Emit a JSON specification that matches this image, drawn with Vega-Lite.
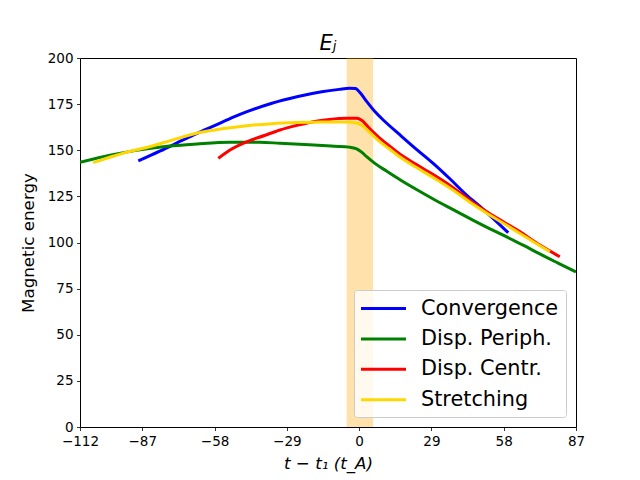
{
  "$schema": "https://vega.github.io/schema/vega-lite/v6.json",
  "width": 496,
  "height": 369,
  "autosize": "none",
  "padding": {"left": 80, "top": 58, "right": 64, "bottom": 53},
  "title": {
    "text": "Eⱼ",
    "font": "DejaVu Sans",
    "fontSize": 21,
    "fontStyle": "italic",
    "fontWeight": "normal",
    "color": "black",
    "offset": -3
  },
  "datasets": {
    "band": [{"t0": -5, "t1": 5.6}],
    "curves": [
      {"series": "Convergence", "t": -88.6, "E": 144.2},
      {"series": "Convergence", "t": -80, "E": 149.5},
      {"series": "Convergence", "t": -70, "E": 156},
      {"series": "Convergence", "t": -65, "E": 159.2},
      {"series": "Convergence", "t": -58, "E": 163.4},
      {"series": "Convergence", "t": -50, "E": 168.2},
      {"series": "Convergence", "t": -45, "E": 170.9},
      {"series": "Convergence", "t": -35, "E": 175.5},
      {"series": "Convergence", "t": -25, "E": 179},
      {"series": "Convergence", "t": -15, "E": 181.7},
      {"series": "Convergence", "t": -8, "E": 183},
      {"series": "Convergence", "t": -4, "E": 183.6},
      {"series": "Convergence", "t": -1.5, "E": 183.5},
      {"series": "Convergence", "t": 0.5, "E": 181},
      {"series": "Convergence", "t": 3, "E": 176.5},
      {"series": "Convergence", "t": 6.3, "E": 171},
      {"series": "Convergence", "t": 10, "E": 166},
      {"series": "Convergence", "t": 16.4, "E": 158.3},
      {"series": "Convergence", "t": 23, "E": 150.5},
      {"series": "Convergence", "t": 29.7, "E": 142.9},
      {"series": "Convergence", "t": 36.5, "E": 134.4},
      {"series": "Convergence", "t": 43.1, "E": 125.7},
      {"series": "Convergence", "t": 49.8, "E": 118},
      {"series": "Convergence", "t": 55, "E": 111.4},
      {"series": "Convergence", "t": 59.8, "E": 105.3},

      {"series": "Disp. Periph.", "t": -112, "E": 143.5},
      {"series": "Disp. Periph.", "t": -100, "E": 147.3},
      {"series": "Disp. Periph.", "t": -90, "E": 149.8},
      {"series": "Disp. Periph.", "t": -78.6, "E": 151.9},
      {"series": "Disp. Periph.", "t": -65, "E": 153.4},
      {"series": "Disp. Periph.", "t": -51.8, "E": 154.3},
      {"series": "Disp. Periph.", "t": -40, "E": 154.3},
      {"series": "Disp. Periph.", "t": -31.8, "E": 153.8},
      {"series": "Disp. Periph.", "t": -20, "E": 153},
      {"series": "Disp. Periph.", "t": -10, "E": 152.2},
      {"series": "Disp. Periph.", "t": -4, "E": 151.7},
      {"series": "Disp. Periph.", "t": -1, "E": 150.8},
      {"series": "Disp. Periph.", "t": 1, "E": 149},
      {"series": "Disp. Periph.", "t": 3, "E": 146.5},
      {"series": "Disp. Periph.", "t": 6.3, "E": 142.9},
      {"series": "Disp. Periph.", "t": 11, "E": 138.7},
      {"series": "Disp. Periph.", "t": 16.4, "E": 134},
      {"series": "Disp. Periph.", "t": 23, "E": 128.7},
      {"series": "Disp. Periph.", "t": 29.7, "E": 123.6},
      {"series": "Disp. Periph.", "t": 36, "E": 119},
      {"series": "Disp. Periph.", "t": 45.8, "E": 112},
      {"series": "Disp. Periph.", "t": 52.5, "E": 107.4},
      {"series": "Disp. Periph.", "t": 59.2, "E": 103},
      {"series": "Disp. Periph.", "t": 66, "E": 98.4},
      {"series": "Disp. Periph.", "t": 72.5, "E": 93.8},
      {"series": "Disp. Periph.", "t": 80, "E": 88.7},
      {"series": "Disp. Periph.", "t": 87, "E": 84},

      {"series": "Disp. Centr.", "t": -56.5, "E": 145.6},
      {"series": "Disp. Centr.", "t": -52, "E": 150},
      {"series": "Disp. Centr.", "t": -45.1, "E": 154.6},
      {"series": "Disp. Centr.", "t": -38, "E": 158},
      {"series": "Disp. Centr.", "t": -31.8, "E": 161},
      {"series": "Disp. Centr.", "t": -25, "E": 163.5},
      {"series": "Disp. Centr.", "t": -18.4, "E": 165.5},
      {"series": "Disp. Centr.", "t": -12, "E": 166.7},
      {"series": "Disp. Centr.", "t": -5, "E": 167.3},
      {"series": "Disp. Centr.", "t": -1, "E": 167.3},
      {"series": "Disp. Centr.", "t": 1, "E": 166.3},
      {"series": "Disp. Centr.", "t": 4, "E": 162},
      {"series": "Disp. Centr.", "t": 7.7, "E": 157.3},
      {"series": "Disp. Centr.", "t": 12, "E": 152.5},
      {"series": "Disp. Centr.", "t": 16.4, "E": 147.8},
      {"series": "Disp. Centr.", "t": 23, "E": 142.2},
      {"series": "Disp. Centr.", "t": 29.7, "E": 136.8},
      {"series": "Disp. Centr.", "t": 37, "E": 130.4},
      {"series": "Disp. Centr.", "t": 45.8, "E": 121.6},
      {"series": "Disp. Centr.", "t": 52, "E": 116},
      {"series": "Disp. Centr.", "t": 58, "E": 111.1},
      {"series": "Disp. Centr.", "t": 65, "E": 105.4},
      {"series": "Disp. Centr.", "t": 72.5, "E": 98.6},
      {"series": "Disp. Centr.", "t": 80.5, "E": 92.3},

      {"series": "Stretching", "t": -106.7, "E": 143.3},
      {"series": "Stretching", "t": -100, "E": 146.2},
      {"series": "Stretching", "t": -95, "E": 148.3},
      {"series": "Stretching", "t": -85.3, "E": 151.5},
      {"series": "Stretching", "t": -75, "E": 155.5},
      {"series": "Stretching", "t": -65.2, "E": 159.2},
      {"series": "Stretching", "t": -55, "E": 161.6},
      {"series": "Stretching", "t": -45.1, "E": 163.3},
      {"series": "Stretching", "t": -35, "E": 164.4},
      {"series": "Stretching", "t": -25.1, "E": 165},
      {"series": "Stretching", "t": -15, "E": 165.3},
      {"series": "Stretching", "t": -5, "E": 165.3},
      {"series": "Stretching", "t": -1, "E": 164.8},
      {"series": "Stretching", "t": 1, "E": 163.6},
      {"series": "Stretching", "t": 4, "E": 160},
      {"series": "Stretching", "t": 8, "E": 155},
      {"series": "Stretching", "t": 12, "E": 150.8},
      {"series": "Stretching", "t": 16.4, "E": 146.3},
      {"series": "Stretching", "t": 23, "E": 140.6},
      {"series": "Stretching", "t": 29.7, "E": 135.2},
      {"series": "Stretching", "t": 37, "E": 129},
      {"series": "Stretching", "t": 45.8, "E": 120.6},
      {"series": "Stretching", "t": 52, "E": 115.2},
      {"series": "Stretching", "t": 58, "E": 110.3},
      {"series": "Stretching", "t": 65, "E": 104.5},
      {"series": "Stretching", "t": 70.5, "E": 99.9},
      {"series": "Stretching", "t": 76.5, "E": 95}
    ]
  },
  "layer": [
    {
      "data": {"name": "band"},
      "mark": {"type": "rect", "color": "orange", "opacity": 0.33},
      "encoding": {
        "x": {"field": "t0", "type": "quantitative"},
        "x2": {"field": "t1"}
      }
    },
    {
      "data": {"name": "curves"},
      "mark": {"type": "line", "strokeWidth": 3, "clip": true, "interpolate": "monotone"},
      "encoding": {
        "x": {
          "field": "t",
          "type": "quantitative",
          "scale": {"domain": [-112, 87], "nice": false, "zero": false},
          "axis": {
            "values": [-112, -87, -58, -29, 0, 29, 58, 87],
            "title": "t − t₁ (t_A)",
            "titleFontStyle": "italic",
            "titlePadding": 8
          }
        },
        "y": {
          "field": "E",
          "type": "quantitative",
          "scale": {"domain": [0, 200], "nice": false},
          "axis": {
            "values": [0, 25, 50, 75, 100, 125, 150, 175, 200],
            "title": "Magnetic energy",
            "titlePadding": 10
          }
        },
        "color": {
          "field": "series",
          "type": "nominal",
          "sort": ["Convergence", "Disp. Periph.", "Disp. Centr.", "Stretching"],
          "scale": {
            "domain": ["Convergence", "Disp. Periph.", "Disp. Centr.", "Stretching"],
            "range": ["#0000ff", "#008000", "#ff0000", "#ffd700"]
          },
          "legend": {
            "title": null,
            "orient": "bottom-right",
            "offset": 10,
            "padding": 7,
            "fillColor": "rgba(255,255,255,0.8)",
            "strokeColor": "#cccccc",
            "cornerRadius": 3,
            "symbolType": "M-1.15,0H3.35",
            "symbolSize": 400,
            "symbolStrokeWidth": 3,
            "symbolOffset": 0,
            "labelOffset": 37,
            "rowPadding": 8.4,
            "labelFont": "DejaVu Sans",
            "labelFontSize": 20.8,
            "labelColor": "black"
          }
        }
      }
    }
  ],
  "config": {
    "view": {"stroke": "black", "strokeWidth": 1},
    "axis": {
      "grid": false,
      "domain": false,
      "ticks": true,
      "tickColor": "black",
      "tickSize": 3.5,
      "tickWidth": 0.8,
      "labelFont": "DejaVu Sans",
      "labelFontSize": 13.5,
      "labelColor": "black",
      "labelPadding": 3.5,
      "labelFlush": false,
      "labelOverlap": false,
      "titleFont": "DejaVu Sans",
      "titleFontSize": 16.7,
      "titleFontWeight": "normal",
      "titleColor": "black"
    }
  }
}
